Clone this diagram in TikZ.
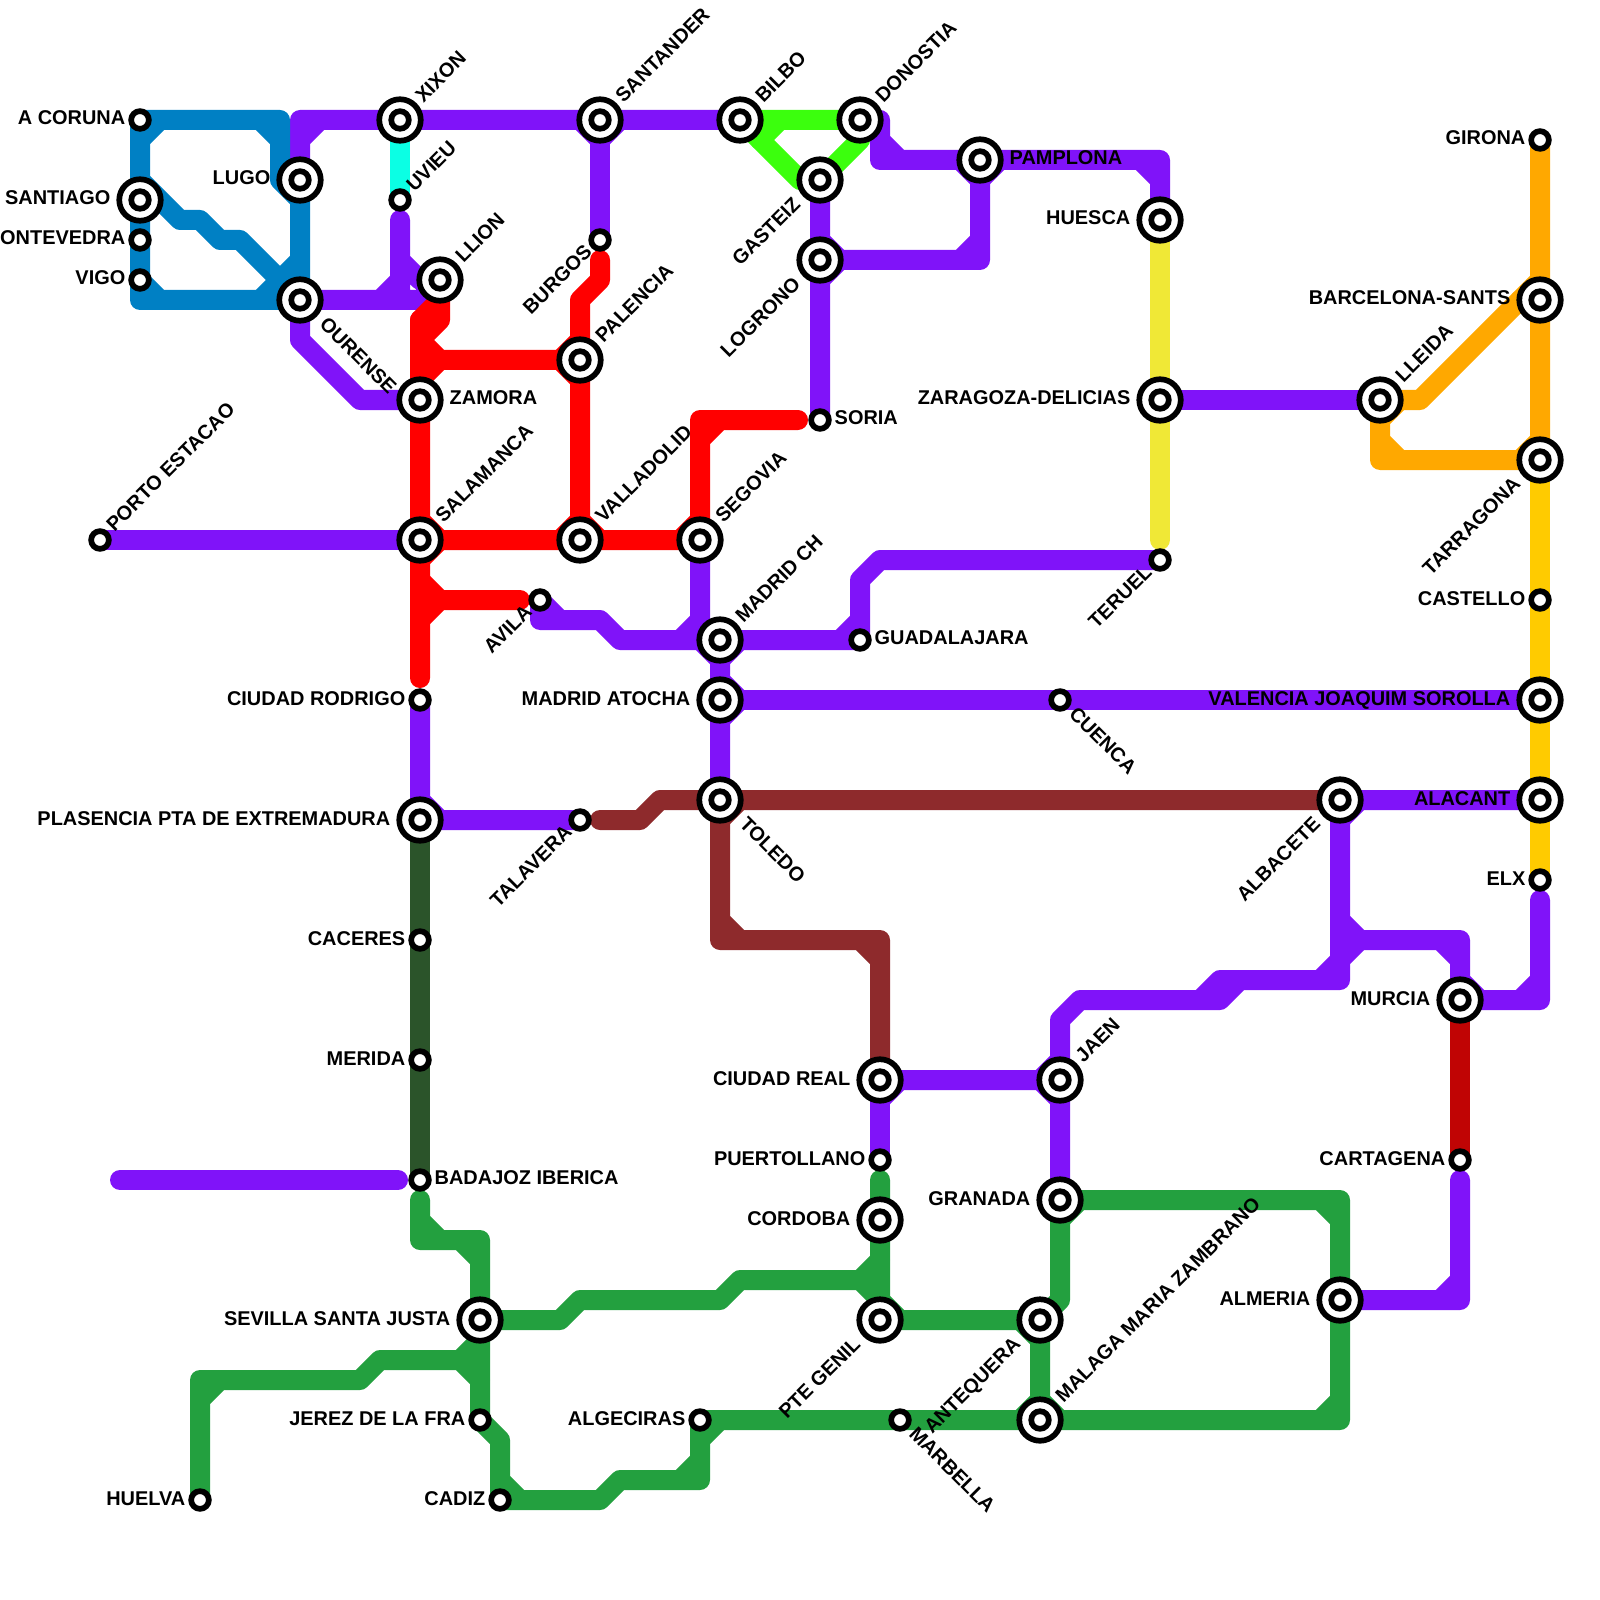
\documentclass[tikz,border=0pt]{standalone}
\usepackage{fontspec}
\setmainfont{Liberation Sans}
\usetikzlibrary{backgrounds}
\definecolor{lnpurple}{HTML}{8013F9}
\definecolor{lnblue}{HTML}{0080C4}
\definecolor{lnred}{HTML}{FF0000}
\definecolor{lnlime}{HTML}{3BFF0D}
\definecolor{lngreen}{HTML}{23A03F}
\definecolor{lndark}{HTML}{2B542A}
\definecolor{lnbrown}{HTML}{8E2A2C}
\definecolor{lncrimson}{HTML}{C00404}
\definecolor{lnorange}{HTML}{FFA800}
\definecolor{lnamber}{HTML}{FFCB00}
\definecolor{lnyellow}{HTML}{F0E836}
\definecolor{lncyan}{HTML}{0BFFE4}

\begin{document}
\begin{tikzpicture}[x=2mm,y=-2mm,
    track/.style={line width=2mm,line cap=round,line join=round},
    big/.style={circle,draw=black,fill=white,line width=.57mm,minimum size=4.15mm,inner sep=0pt,outer sep=0pt,
      path picture={\fill[black] (path picture bounding box.center) circle (1.17mm);
        \fill[white] (path picture bounding box.center) circle (.58mm);}},
    small/.style={circle,draw=black,fill=white,line width=.57mm,minimum size=1.77mm,inner sep=0pt,outer sep=0pt},
    name text/.style={inner sep=0pt,font=\fontsize{5.67pt}{6pt}\selectfont\bfseries},
    wbig/.style={name text,xshift=-2.9mm,yshift=-.5mm,anchor=base east},
    wsmall/.style={name text,xshift=-1.4mm,yshift=-.5mm,anchor=base east},
    ebig/.style={name text,xshift=2.9mm,yshift=-.45mm,anchor=base west},
    esmall/.style={name text,xshift=1.4mm,yshift=-.45mm,anchor=base west},
    nebig/.style={name text,xshift=2.3mm,yshift=1.6mm,rotate=45,anchor=base west},
    nesmall/.style={name text,xshift=1.4mm,yshift=.7mm,rotate=45,anchor=base west},
    sebig/.style={name text,xshift=1.8mm,yshift=-2.5mm,rotate=-45,anchor=base west},
    sesmall/.style={name text,xshift=.75mm,yshift=-1.45mm,rotate=-45,anchor=base west},
    swbig/.style={name text,xshift=-1.8mm,yshift=-2.5mm,rotate=45,anchor=base east},
    swsmall/.style={name text,xshift=-.65mm,yshift=-1.3mm,rotate=45,anchor=base east}]
  \useasboundingbox (0,0) rectangle (80,80);

  % galicia and the north coast
  \node[small] (acoruna) at (7,6) {};      \node[wsmall] (acorunat) at (acoruna) {A CORUNA};
  \node[big] (santiago) at (7,10) {};      \node[wbig] (santiagot) at (santiago) {SANTIAGO};
  \node[small] (pontevedra) at (7,12) {};  \node[wsmall] (pontevedrat) at (pontevedra) {PONTEVEDRA};
  \node[small] (vigo) at (7,14) {};        \node[wsmall] (vigot) at (vigo) {VIGO};
  \node[big] (lugo) at (15,9) {};          \node[wbig] (lugot) at (lugo) {LUGO};
  \node[big] (ourense) at (15,15) {};      \node[sebig] (ourenset) at (ourense) {OURENSE};
  \node[big] (xixon) at (20,6) {};         \node[nebig] (xixont) at (xixon) {XIXON};
  \node[small] (uvieu) at (20,10) {};      \node[nesmall] (uvieut) at (uvieu) {UVIEU};
  \node[big] (llion) at (22,14) {};        \node[nebig] (lliont) at (llion) {LLION};
  \node[big] (santander) at (30,6) {};     \node[nebig] (santandert) at (santander) {SANTANDER};
  \node[small] (burgos) at (30,12) {};     \node[swsmall] (burgost) at (burgos) {BURGOS};
  \node[big] (bilbo) at (37,6) {};         \node[nebig] (bilbot) at (bilbo) {BILBO};
  \node[big] (donostia) at (43,6) {};      \node[nebig] (donostiat) at (donostia) {DONOSTIA};
  \node[big] (gasteiz) at (41,9) {};       \node[swbig] (gasteizt) at (gasteiz) {GASTEIZ};
  \node[big] (logrono) at (41,13) {};      \node[swbig] (logronot) at (logrono) {LOGRONO};
  \node[big] (pamplona) at (49,8) {};      \node[ebig] (pamplonat) at (pamplona) {PAMPLONA};
  \node[big] (huesca) at (58,11) {};       \node[wbig] (huescat) at (huesca) {HUESCA};
  % castilla
  \node[big] (zamora) at (21,20) {};       \node[ebig] (zamorat) at (zamora) {ZAMORA};
  \node[big] (salamanca) at (21,27) {};    \node[nebig] (salamancat) at (salamanca) {SALAMANCA};
  \node[small] (porto) at (5,27) {};       \node[nesmall] (portot) at (porto) {PORTO ESTACAO};
  \node[big] (palencia) at (29,18) {};     \node[nebig] (palenciat) at (palencia) {PALENCIA};
  \node[big] (valladolid) at (29,27) {};   \node[nebig] (valladolidt) at (valladolid) {VALLADOLID};
  \node[big] (segovia) at (35,27) {};      \node[nebig] (segoviat) at (segovia) {SEGOVIA};
  \node[small] (soria) at (41,21) {};      \node[esmall] (soriat) at (soria) {SORIA};
  \node[small] (avila) at (27,30) {};      \node[swsmall] (avilat) at (avila) {AVILA};
  \node[small] (rodrigo) at (21,35) {};    \node[wsmall] (rodrigot) at (rodrigo) {CIUDAD RODRIGO};
  % madrid and la mancha
  \node[big] (madridch) at (36,32) {};     \node[nebig] (madridcht) at (madridch) {MADRID CH};
  \node[big] (atocha) at (36,35) {};       \node[wbig] (atochat) at (atocha) {MADRID ATOCHA};
  \node[big] (toledo) at (36,40) {};       \node[sebig] (toledot) at (toledo) {TOLEDO};
  \node[small] (guadalajara) at (43,32) {}; \node[esmall] (guadalajarat) at (guadalajara) {GUADALAJARA};
  \node[small] (cuenca) at (53,35) {};     \node[sesmall] (cuencat) at (cuenca) {CUENCA};
  \node[small] (talavera) at (29,41) {};   \node[swsmall] (talaverat) at (talavera) {TALAVERA};
  \node[big] (ciudadreal) at (44,54) {};   \node[wbig] (ciudadrealt) at (ciudadreal) {CIUDAD REAL};
  \node[small] (puertollano) at (44,58) {}; \node[wsmall] (puertollanot) at (puertollano) {PUERTOLLANO};
  \node[big] (albacete) at (67,40) {};     \node[swbig] (albacetet) at (albacete) {ALBACETE};
  % extremadura
  \node[big] (plasencia) at (21,41) {};    \node[wbig] (plasenciat) at (plasencia) {PLASENCIA PTA DE EXTREMADURA};
  \node[small] (caceres) at (21,47) {};    \node[wsmall] (cacerest) at (caceres) {CACERES};
  \node[small] (merida) at (21,53) {};     \node[wsmall] (meridat) at (merida) {MERIDA};
  \node[small] (badajoz) at (21,59) {};    \node[esmall] (badajozt) at (badajoz) {BADAJOZ IBERICA};
  % aragon and the east coast
  \node[big] (zaragoza) at (58,20) {};     \node[wbig] (zaragozat) at (zaragoza) {ZARAGOZA-DELICIAS};
  \node[small] (teruel) at (58,28) {};     \node[swsmall] (teruelt) at (teruel) {TERUEL};
  \node[big] (lleida) at (69,20) {};       \node[nebig] (lleidat) at (lleida) {LLEIDA};
  \node[small] (girona) at (77,7) {};      \node[wsmall] (gironat) at (girona) {GIRONA};
  \node[big] (barcelona) at (77,15) {};    \node[wbig] (barcelonat) at (barcelona) {BARCELONA-SANTS};
  \node[big] (tarragona) at (77,23) {};    \node[swbig] (tarragonat) at (tarragona) {TARRAGONA};
  \node[small] (castello) at (77,30) {};   \node[wsmall] (castellot) at (castello) {CASTELLO};
  \node[big] (valencia) at (77,35) {};     \node[wbig] (valenciat) at (valencia) {VALENCIA JOAQUIM SOROLLA};
  \node[big] (alacant) at (77,40) {};      \node[wbig] (alacantt) at (alacant) {ALACANT};
  \node[small] (elx) at (77,44) {};        \node[wsmall] (elxt) at (elx) {ELX};
  \node[big] (murcia) at (73,50) {};       \node[wbig] (murciat) at (murcia) {MURCIA};
  \node[small] (cartagena) at (73,58) {};  \node[wsmall] (cartagenat) at (cartagena) {CARTAGENA};
  % andalucia
  \node[big] (jaen) at (53,54) {};         \node[nebig] (jaent) at (jaen) {JAEN};
  \node[big] (granada) at (53,60) {};      \node[wbig] (granadat) at (granada) {GRANADA};
  \node[big] (almeria) at (67,65) {};      \node[wbig] (almeriat) at (almeria) {ALMERIA};
  \node[big] (cordoba) at (44,61) {};      \node[wbig] (cordobat) at (cordoba) {CORDOBA};
  \node[big] (ptegenil) at (44,66) {};     \node[swbig] (ptegenilt) at (ptegenil) {PTE GENIL};
  \node[big] (antequera) at (52,66) {};    \node[swbig] (antequerat) at (antequera) {ANTEQUERA};
  \node[big] (malaga) at (52,71) {};       \node[nebig] (malagat) at (malaga) {MALAGA MARIA ZAMBRANO};
  \node[small] (marbella) at (45,71) {};   \node[sesmall] (marbellat) at (marbella) {MARBELLA};
  \node[small] (algeciras) at (35,71) {};  \node[wsmall] (algecirast) at (algeciras) {ALGECIRAS};
  \node[big] (sevilla) at (24,66) {};      \node[wbig] (sevillat) at (sevilla) {SEVILLA SANTA JUSTA};
  \node[small] (jerez) at (24,71) {};      \node[wsmall] (jerezt) at (jerez) {JEREZ DE LA FRA};
  \node[small] (cadiz) at (25,75) {};      \node[wsmall] (cadizt) at (cadiz) {CADIZ};
  \node[small] (huelva) at (10,75) {};     \node[wsmall] (huelvat) at (huelva) {HUELVA};

  % free line ends next to a station
  \coordinate (uvieuend) at (20,11);
  \coordinate (burgosend) at (30,13);
  \coordinate (soriaend) at (39.9,21);
  \coordinate (avilaend) at (26,30);
  \coordinate (rodrigoend) at (21,33.9);
  \coordinate (talaveraend) at (30,41);
  \coordinate (badajozwest) at (19.9,59);
  \coordinate (westend) at (6,59);
  \coordinate (badajozsouth) at (21,60);
  \coordinate (puertollanoend) at (44,59);
  \coordinate (cartagenaend) at (73,59);
  \coordinate (elxend) at (77,45);
  \coordinate (teruelend) at (58,27);

  \begin{scope}[on background layer]
    % purple
    \draw[track,lnpurple] (lugo.center) -- (15,6) -- (xixon.center) -- (santander.center) -- (bilbo.center)
      (16,6) -- (15,7) (30,7) -- (29,6) (30,7) -- (31,6);
    \draw[track,lnpurple] (santander.center) -- (burgos.center);
    \draw[track,lnpurple] (ourense.center) -- (15,17) -- (18,20) -- (zamora.center);
    \draw[track,lnpurple] (ourense.center) -- (21,15) -- (llion.center)
      (uvieuend) -- (20,15) (20,14) -- (19,15) (20,13) -- (21,14) -- (llion.center);
    \draw[track,lnpurple] (porto.center) -- (salamanca.center);
    \draw[track,lnpurple] (avila.center) -- (27,31) -- (30,31) -- (31,32) -- (madridch.center)
      -- (guadalajara.center) -- (43,29) -- (44,28) -- (teruel.center)
      (27,30) -- (28,31) (43,31) -- (42,32) (36,33) -- (35,32) (36,33) -- (37,32);
    \draw[track,lnpurple] (segovia.center) -- (35,32) -- (madridch.center) (35,31) -- (34,32);
    \draw[track,lnpurple] (madridch.center) -- (atocha.center) -- (toledo.center)
      (36,34) -- (37,35) (36,36) -- (37,35);
    \draw[track,lnpurple] (atocha.center) -- (cuenca.center) -- (valencia.center);
    \draw[track,lnpurple] (rodrigo.center) -- (plasencia.center) -- (talavera.center) (21,40) -- (22,41);
    \draw[track,lnpurple] (albacete.center) -- (alacant.center) (67,41) -- (68,40);
    \draw[track,lnpurple] (westend) -- (badajozwest);
    \draw[track,lnpurple] (ciudadreal.center) -- (jaen.center) (44,55) -- (45,54);
    \draw[track,lnpurple] (ciudadreal.center) -- (puertollano.center);
    \draw[track,lnpurple] (jaen.center) -- (granada.center) (53,53) -- (52,54) (53,55) -- (52,54);
    \draw[track,lnpurple] (jaen.center) -- (53,51) -- (54,50) -- (60,50) -- (61,49) -- (67,49)
      -- (albacete.center) (54,50) -- (61,50) -- (62,49) (66,49) -- (67,48) -- (68,47);
    \draw[track,lnpurple] (67,46) -- (68,47) -- (73,47) -- (murcia.center)
      (72,47) -- (73,48) (73,49) -- (74,50);
    \draw[track,lnpurple] (murcia.center) -- (77,50) -- (elxend) (76,50) -- (77,49);
    \draw[track,lnpurple] (cartagenaend) -- (73,65) -- (almeria.center) (72,65) -- (73,64);
    \draw[track,lnpurple] (donostia.center) -- (44,6) -- (44,8) -- (pamplona.center) -- (58,8) -- (huesca.center)
      (44,7) -- (45,8) (57,8) -- (58,9) (49,9) -- (48,8) (49,9) -- (50,8);
    \draw[track,lnpurple] (pamplona.center) -- (49,13) -- (logrono.center) (48,13) -- (49,12);
    \draw[track,lnpurple] (gasteiz.center) -- (logrono.center) -- (soria.center) (41,12) -- (42,13) (41,14) -- (42,13);
    \draw[track,lnpurple] (zaragoza.center) -- (lleida.center);
    % blue
    \draw[track,lnblue] (acoruna.center) -- (14,6) -- (14,9) -- (15,10) -- (ourense.center)
      (13,6) -- (14,7) (8,6) -- (7,7) (15,13) -- (13,15);
    \draw[track,lnblue] (acoruna.center) -- (santiago.center) -- (pontevedra.center) -- (vigo.center)
      -- (7,15) -- (ourense.center) (7,14) -- (8,15);
    \draw[track,lnblue] (santiago.center) -- (8,10) -- (9,11) -- (10,11) -- (11,12) -- (12,12) -- (ourense.center)
      (7,9) -- (8,10);
    % red
    \draw[track,lnred] (burgosend) -- (30,14) -- (29,15) -- (palencia.center) -- (valladolid.center)
      (29,17) -- (28,18) (29,19) -- (28,18) (29,26) -- (28,27);
    \draw[track,lnred] (llion.center) -- (22,16) -- (21,17) -- (22,18) -- (palencia.center)
      (21,19) -- (22,18) (21,16) -- (22,15);
    \draw[track,lnred] (21,16) -- (zamora.center) -- (salamanca.center) -- (rodrigoend)
      (21,26) -- (22,27) (21,28) -- (22,27);
    \draw[track,lnred] (21,29) -- (22,30) -- (avilaend) (21,31) -- (22,30);
    \draw[track,lnred] (salamanca.center) -- (valladolid.center) -- (segovia.center) (29,26) -- (30,27);
    \draw[track,lnred] (segovia.center) -- (35,21) -- (soriaend) (36,21) -- (35,22) (35,26) -- (34,27);
    % lime
    \draw[track,lnlime] (bilbo.center) -- (donostia.center) (39,6) -- (38,7);
    \draw[track,lnlime] (bilbo.center) -- (40,9) -- (gasteiz.center);
    \draw[track,lnlime] (donostia.center) -- (43,7) -- (gasteiz.center);
    % cyan and dark green
    \draw[track,lncyan] (xixon.center) -- (uvieu.center);
    \draw[track,lndark] (plasencia.center) -- (caceres.center) -- (merida.center) -- (badajoz.center);
    % brown
    \draw[track,lnbrown] (talaveraend) -- (32,41) -- (33,40) -- (toledo.center) -- (albacete.center) (36,41) -- (37,40);
    \draw[track,lnbrown] (toledo.center) -- (36,47) -- (44,47) -- (ciudadreal.center)
      (36,46) -- (37,47) (43,47) -- (44,48);
    % green
    \draw[track,lngreen] (badajozsouth) -- (21,62) -- (24,62) -- (sevilla.center) -- (jerez.center) -- (25,72) -- (cadiz.center)
      -- (30,75) -- (31,74) -- (35,74) -- (algeciras.center)
      (21,61) -- (22,62) (23,62) -- (24,63) (25,74) -- (26,75) (34,74) -- (35,73) (36,71) -- (35,72);
    \draw[track,lngreen] (algeciras.center) -- (marbella.center) -- (malaga.center) -- (67,71) -- (almeria.center)
      -- (67,60) -- (granada.center) (66,71) -- (67,70) (66,60) -- (67,61) (53,61) -- (54,60)
      (52,70) -- (51,71) (52,70) -- (53,71);
    \draw[track,lngreen] (sevilla.center) -- (28,66) -- (29,65) -- (36,65) -- (37,64) -- (43,64) -- (44,63)
      (43,64) -- (44,65);
    \draw[track,lngreen] (puertollanoend) -- (cordoba.center) -- (ptegenil.center) -- (antequera.center) -- (malaga.center)
      (44,65) -- (45,66) (52,67) -- (51,66);
    \draw[track,lngreen] (antequera.center) -- (53,65) -- (granada.center);
    \draw[track,lngreen] (24,67) -- (23,68) -- (19,68) -- (18,69) -- (10,69) -- (huelva.center)
      (11,69) -- (10,70) (23,68) -- (24,69);
    % orange, amber, yellow, crimson
    \draw[track,lnorange] (girona.center) -- (barcelona.center) -- (tarragona.center) (77,14) -- (76,15) (77,22) -- (76,23);
    \draw[track,lnorange] (lleida.center) -- (71,20) -- (76,15) -- (barcelona.center);
    \draw[track,lnorange] (lleida.center) -- (69,23) -- (tarragona.center) (69,22) -- (70,23) (69,21) -- (70,20);
    \draw[track,lnamber] (tarragona.center) -- (castello.center) -- (valencia.center) -- (alacant.center) -- (elx.center);
    \draw[track,lnyellow] (huesca.center) -- (zaragoza.center) -- (teruelend);
    \draw[track,lncrimson] (murcia.center) -- (cartagena.center);
  \end{scope}
\end{tikzpicture}
\end{document}
